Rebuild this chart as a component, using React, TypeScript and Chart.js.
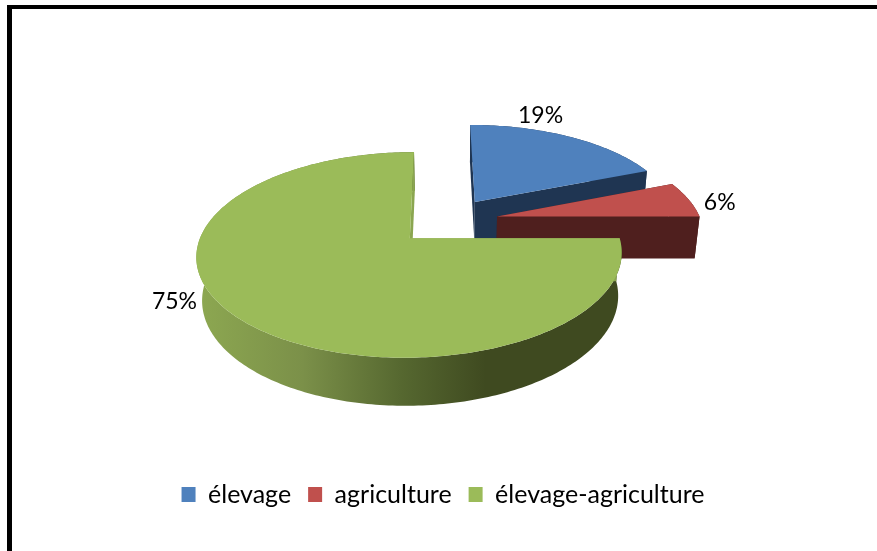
import React, { useEffect, useRef } from "react";
import { Chart, registerables } from "chart.js";

Chart.register(...registerables);

const categories = ["élevage", "agriculture", "élevage-agriculture"];
const shares = [19, 6, 75];
const topColors = ["#4F81BD", "#C0504D", "#9BBB59"];
const sideColors = ["#1F3552", "#4F1F1E", "#8BA650"];
const frontShades = ["#8DA851", "#7B9049", "#566830", "#3F4A20", "#3F4A20"];
const frontShadeStops = [0, 0.25, 0.48, 0.68, 1];
const labelShifts = [
  [-29, -21],
  [31, 3],
  [-64, -17],
];

const FONT = "Lato, 'Open Sans', sans-serif";

// Camera for the tilted disc: offsets are in pixels from the chart centre,
// plane coordinates are in units of the pie radius.
const camera = {
  scaleX: 204,
  shiftX: 7,
  vanishX: -6,
  reach: 603.4,
  depth: 0.1568,
  dropX: 13,
  dropY: 2032,
  thickness: 0.0212,
  originX: 3,
  originY: -21.5,
};

type Pt = [number, number];

function project(cx: number, cy: number, X: number, Y: number, z: number): Pt {
  const c = camera;
  const w = 1 - c.depth * Y;
  const px = c.vanishX + (c.scaleX * X + c.shiftX) / w;
  const py = -c.reach + c.reach / w;
  const f = w / (w + z * c.thickness);
  return [
    cx + c.originX + c.dropX + (px - c.dropX) * f,
    cy + c.originY + c.dropY + (py - c.dropY) * f,
  ];
}

function trace(ctx: CanvasRenderingContext2D, pts: Pt[]) {
  ctx.beginPath();
  pts.forEach((p, i) => (i ? ctx.lineTo(p[0], p[1]) : ctx.moveTo(p[0], p[1])));
  ctx.closePath();
}

function sliceFrame(arc: any) {
  const p = arc.getProps(["x", "y", "startAngle", "endAngle", "outerRadius"], true);
  const mid = (p.startAngle + p.endAngle) / 2;
  const shift = (arc.options.offset || 0) / 4 / p.outerRadius;
  return {
    ...p,
    mid,
    ox: Math.cos(mid) * shift,
    oy: Math.sin(mid) * shift,
  };
}

// Replaces the flat arc of each slice with a perspective slab.
const slabPlugin = {
  id: "slab",
  beforeDatasetDraw(chart: any) {
    const { ctx } = chart;
    const arcs = chart.getDatasetMeta(0).data;
    arcs.forEach((arc: any, i: number) => {
      const s = sliceFrame(arc);
      const at = (a: number, z: number) =>
        project(s.x, s.y, s.ox + Math.cos(a), s.oy + Math.sin(a), z);
      const apex = (z: number) => project(s.x, s.y, s.ox, s.oy, z);
      const steps = Math.max(24, Math.ceil(((s.endAngle - s.startAngle) / Math.PI) * 180));
      const rim = (z: number) => {
        const out: Pt[] = [];
        for (let k = 0; k <= steps; k++) {
          out.push(at(s.startAngle + ((s.endAngle - s.startAngle) * k) / steps, z));
        }
        return out;
      };
      const top = rim(0);
      const bottom = rim(1);

      ctx.save();
      // Outer wall first, then the two cut faces, then the lid.
      const xs = top.concat(bottom).map((p) => p[0]);
      const left = Math.min(...xs);
      const right = Math.max(...xs);
      if (i === shares.length - 1) {
        const shade = ctx.createLinearGradient(left, 0, right, 0);
        frontShades.forEach((c, k) => shade.addColorStop(frontShadeStops[k], c));
        ctx.fillStyle = shade;
      } else {
        ctx.fillStyle = sideColors[i];
      }
      trace(ctx, top.concat(bottom.slice().reverse()));
      ctx.fill();

      ctx.fillStyle = sideColors[i];
      trace(ctx, [apex(0), at(s.startAngle, 0), at(s.startAngle, 1), apex(1)]);
      ctx.fill();
      trace(ctx, [apex(0), at(s.endAngle, 0), at(s.endAngle, 1), apex(1)]);
      ctx.fill();

      ctx.fillStyle = topColors[i];
      trace(ctx, [apex(0), ...top]);
      ctx.fill();
      ctx.restore();
    });
    return false;
  },
  afterDatasetsDraw(chart: any) {
    const { ctx } = chart;
    const total = shares.reduce((a, b) => a + b, 0);
    chart.getDatasetMeta(0).data.forEach((arc: any, i: number) => {
      const s = sliceFrame(arc);
      const [x, y] = project(s.x, s.y, s.ox + Math.cos(s.mid), s.oy + Math.sin(s.mid), 0);
      ctx.save();
      ctx.font = `23px ${FONT}`;
      ctx.fillStyle = "#000";
      ctx.textAlign = "center";
      ctx.textBaseline = "middle";
      ctx.fillText(
        `${Math.round((shares[i] / total) * 100)}%`,
        x + labelShifts[i][0],
        y + labelShifts[i][1]
      );
      ctx.restore();
    });
  },
};

export default function App() {
  const ref = useRef<HTMLCanvasElement | null>(null);

  useEffect(() => {
    document.body.style.margin = "0";
    document.body.style.background = "#fff";
    const chart = new Chart(ref.current as HTMLCanvasElement, {
      type: "pie",
      data: {
        labels: categories,
        datasets: [
          {
            data: shares,
            backgroundColor: topColors,
            borderWidth: 0,
            hoverOffset: 0,
            offset: (c: any) => {
              const area = c.chart.chartArea;
              return area ? 0.335 * Math.min(area.width, area.height) : 0;
            },
          },
        ],
      },
      options: {
        responsive: false,
        animation: false,
        events: [],
        layout: { padding: { left: 9, right: 0, top: 20, bottom: 34 } },
        plugins: {
          tooltip: { enabled: false },
          legend: {
            position: "bottom",
            labels: {
              boxWidth: 14,
              boxHeight: 15,
              padding: 17,
              color: "#000",
              font: { family: FONT, size: 25 },
            },
          },
        },
      },
      plugins: [slabPlugin],
    } as any);
    return () => chart.destroy();
  }, []);

  return (
    <div style={{ position: "fixed", inset: 0, overflow: "hidden", background: "#fff" }}>
      <div
        style={{
          position: "absolute",
          left: 7,
          top: 5,
          width: 900,
          height: 600,
          borderLeft: "5px solid #000",
          borderTop: "4px solid #000",
        }}
      />
      <canvas
        ref={ref}
        width={877}
        height={551}
        style={{ position: "absolute", left: 0, top: 0 }}
      />
    </div>
  );
}
